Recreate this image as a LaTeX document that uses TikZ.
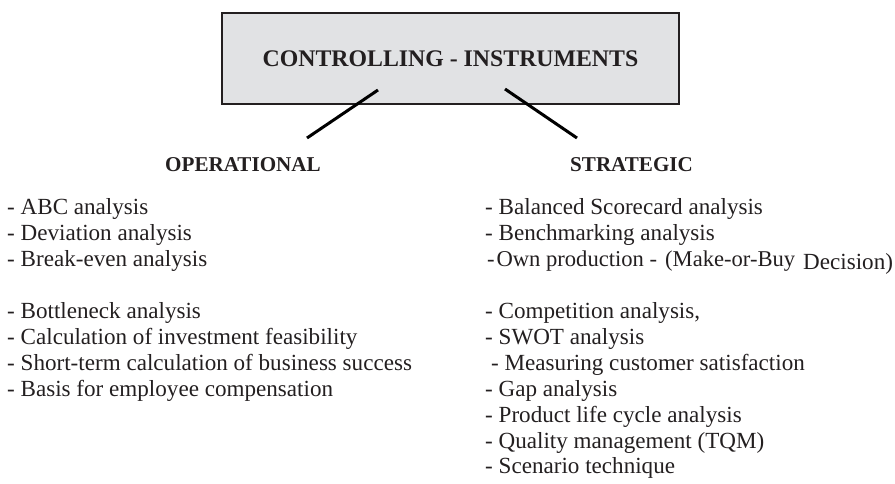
\documentclass[tikz,border=0pt]{standalone}
\usepackage{fontspec}
\setmainfont{Liberation Serif}
\definecolor{boxfill}{HTML}{E1E2E4}
\definecolor{ink}{HTML}{231F20}
\begin{document}
\begin{tikzpicture}[x=1pt,y=-1pt,
  titlebox/.style={draw=ink, line width=1.6pt, fill=boxfill, minimum width=457pt, minimum height=91pt, inner sep=0pt,
    font=\fontsize{23.8}{28}\selectfont\bfseries, text=ink},
  head/.style={anchor=base west, inner sep=0pt, font=\fontsize{21.1}{24}\selectfont\bfseries, text=ink},
  item/.style={anchor=base west, inner sep=0pt, font=\fontsize{23.1}{26}\selectfont, text=ink},
  link/.style={draw=black, line width=3pt}]
\useasboundingbox (0,0) rectangle (895,483);
\node[titlebox] (title) at (450.5,58.5) {CONTROLLING - INSTRUMENTS};
\node[head] (op) at (165,171) {OPERATIONAL};
\node[head] (st) at (570,171) {STRATEGIC};
\coordinate (l1) at (378,90);
\coordinate (l2) at (307,138);
\coordinate (r1) at (505,89);
\coordinate (r2) at (577,138);
\draw[link] (l1) -- (l2);
\draw[link] (r1) -- (r2);
% operational
\node[item] (o1) at (7,214) {- ABC analysis};
\node[item] (o2) at (7,240) {- Deviation analysis};
\node[item] (o3) at (7,266) {- Break-even analysis};
\node[item] (o4) at (7,318) {- Bottleneck analysis};
\node[item] (o5) at (7,344) {- Calculation of investment feasibility};
\node[item] (o6) at (7,370) {- Short-term calculation of business success};
\node[item] (o7) at (7,396) {- Basis for employee compensation};
% strategic
\node[item] (s1) at (485,214) {- Balanced Scorecard analysis};
\node[item] (s2) at (485,240) {- Benchmarking analysis};
\node[item, font=\fontsize{22.6}{26}\selectfont] (s3) at (487,266) {-\hspace{0.08em}Own production - \hspace{0.1em}(Make-or-Buy};
\node[item] (s3b) at (803,269) {Decision)};
\node[item] (s4) at (485,318) {- Competition analysis,};
\node[item] (s5) at (485,344) {- SWOT analysis};
\node[item] (s6) at (491,370) {- Measuring customer satisfaction};
\node[item] (s7) at (485,396) {- Gap analysis};
\node[item] (s8) at (485,422) {- Product life cycle analysis};
\node[item] (s9) at (485,448) {- Quality management (TQM)};
\node[item] (s10) at (485,473) {- Scenario technique};
\end{tikzpicture}
\end{document}
